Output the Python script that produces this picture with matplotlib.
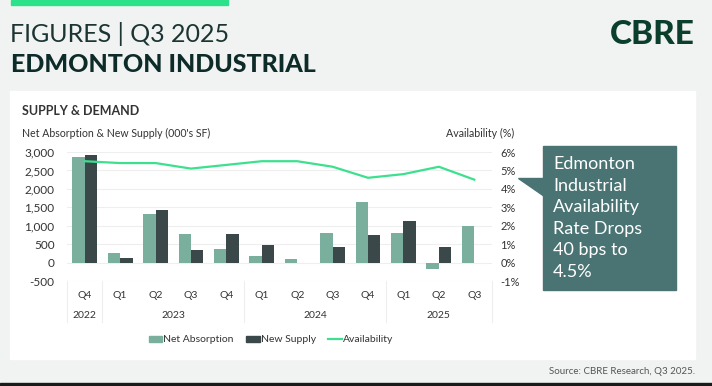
import matplotlib
matplotlib.use("Agg")
from matplotlib import pyplot as plt
from matplotlib.patches import Rectangle, Polygon, Patch
from matplotlib.lines import Line2D
from matplotlib.ticker import FuncFormatter
import numpy as np

plt.rcParams['font.family'] = ['Lato', 'DejaVu Sans']

quarters = ['Q4', 'Q1', 'Q2', 'Q3', 'Q4', 'Q1', 'Q2', 'Q3', 'Q4', 'Q1', 'Q2', 'Q3']
years = ['2022', '2023', '2024', '2025']
year_spans = [(0, 0), (1, 4), (5, 8), (9, 11)]
net_absorption = [2870, 270, 1330, 780, 370, 180, 90, 800, 1640, 800, -180, 990]
new_supply = [2910, 125, 1420, 350, 770, 490, 0, 415, 760, 1120, 415, 0]
availability = [5.5, 5.4, 5.4, 5.1, 5.3, 5.5, 5.5, 5.2, 4.6, 4.8, 5.2, 4.5]

W, H = 712, 386
fig = plt.figure(figsize=(W / 100, H / 100), dpi=100, facecolor='#f1f3f3')

def fx(x):
    return x / W

def fy(y):
    return 1 - y / H

# top accent + panel
fig.patches.append(Rectangle((fx(11), fy(5)), fx(217), 5 / H, transform=fig.transFigure,
                             color='#2be28b', zorder=-2))
fig.patches.append(Rectangle((fx(10), fy(359)), fx(685), 268 / H, transform=fig.transFigure,
                             color='white', zorder=-2))
fig.patches.append(Rectangle((0, 0), 1, 3 / H, transform=fig.transFigure, color='#1a1a1a', zorder=-2))

fig.text(fx(10), fy(34), 'FIGURES | Q3 2025', fontsize=18, fontweight='normal', color='#1c3532', va='center')
fig.text(fx(11), fy(64), 'EDMONTON INDUSTRIAL', fontsize=18, fontweight='black', color='#0d2b28', va='center')
fig.text(fx(695), fy(35), 'CBRE', fontsize=24, fontweight='black', color='#0b3f2c', va='center', ha='right')

fig.text(fx(22), fy(111), 'SUPPLY & DEMAND', fontsize=9, fontweight='bold', color='#333333', va='center')
fig.text(fx(22), fy(133), "Net Absorption & New Supply (000's SF)", fontsize=7.6, color='#333333', va='center')
fig.text(fx(514), fy(133), 'Availability (%)', fontsize=7.7, color='#333333', va='center', ha='right')
fig.text(fx(695), fy(371), 'Source: CBRE Research, Q3 2025.', fontsize=7, color='#555555', va='center', ha='right')

# chart
ax = fig.add_axes([fx(67), fy(281), fx(492 - 67), (281 - 152) / H])
ax.set_zorder(1)
ax.set_facecolor('none')
x = np.arange(len(quarters))
bw = 0.35
ax.bar(x - bw / 2, net_absorption, bw, color='#7aae9d', zorder=2)
ax.bar(x + bw / 2, new_supply, bw, color='#3a4849', zorder=2)
ax.set_xlim(-0.5, len(quarters) - 0.5)
ax.set_ylim(-500, 3000)
ax.set_yticks(range(-500, 3001, 500))
ax.yaxis.set_major_formatter(FuncFormatter(lambda v, p: f'{int(v):,}'))
ax.grid(axis='y', color='#eeeeee', linewidth=0.8, zorder=0)
ax.set_xticks([])
for s in ax.spines.values():
    s.set_visible(False)
ax.tick_params(axis='y', length=0, labelsize=8.5, colors='#333333', pad=9)

ax2 = ax.twinx()
ax2.plot(x, availability, color='#3de08f', linewidth=1.6, zorder=3)
ax2.set_ylim(-1, 6)
ax2.set_yticks(range(-1, 7))
ax2.yaxis.set_major_formatter(FuncFormatter(lambda v, p: f'{int(v)}%'))
for s in ax2.spines.values():
    s.set_visible(False)
ax2.tick_params(axis='y', length=0, labelsize=8, colors='#333333', pad=6)

# multi-level category axis
trans = ax.get_xaxis_transform()
hgt = 281 - 152
for i, q in enumerate(quarters):
    ax.text(i, -(295 - 281) / hgt, q, transform=trans, ha='center', va='center', fontsize=7.5, color='#333333')
for yr, (a, b) in zip(years, year_spans):
    ax.text((a + b) / 2, -(316 - 281) / hgt, yr, transform=trans, ha='center', va='center', fontsize=7.5, color='#333333')
for b in [-0.5, 0.5, 4.5, 8.5, 11.5]:
    ax.plot([b, b], [0, -(322 - 281) / hgt], transform=trans, color='#eeeeee', linewidth=0.8, clip_on=False)

handles = [Patch(color='#7aae9d'), Patch(color='#3a4849'), Line2D([], [], color='#3de08f', linewidth=1.6)]
fig.legend(handles, ['Net Absorption', 'New Supply', 'Availability'], loc='center', bbox_to_anchor=(fx(271), fy(340)),
           ncol=3, frameon=False, fontsize=7.5, handlelength=1.3, handleheight=0.6, handletextpad=0.1,
           columnspacing=1.2, labelcolor='#333333')

# callout
box = '#4a7373'
fig.patches.append(Rectangle((fx(543), fy(290)), fx(676 - 543), (290 - 146) / H, transform=fig.transFigure,
                             color=box, zorder=1))
fig.patches.append(Polygon([(fx(518), fy(178)), (fx(544), fy(178)), (fx(544), fy(196))],
                           transform=fig.transFigure, color=box, zorder=1))
fig.text(fx(553), fy(218), 'Edmonton\nIndustrial\nAvailability\nRate Drops\n40 bps to\n4.5%', fontsize=13,
         color='white', va='center', ha='left', linespacing=1.42)

fig.savefig('out.png', dpi=100, facecolor=fig.get_facecolor())
